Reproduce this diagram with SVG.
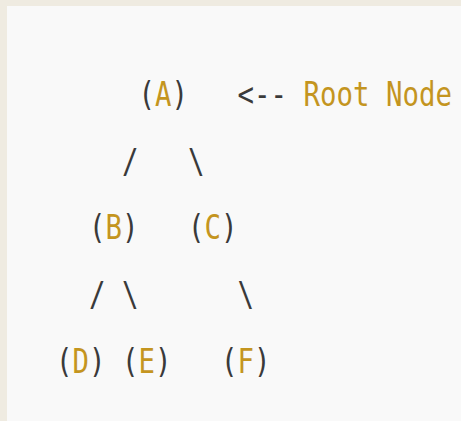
<svg xmlns="http://www.w3.org/2000/svg" width="461" height="421" viewBox="0 0 461 421">
<style>
text{font-family:"DejaVu Sans Mono","Liberation Mono",monospace;font-size:33px;fill:#3a3a3a;white-space:pre}
.k{fill:#c4951f}
</style>
<rect x="0" y="0" width="461" height="421" fill="#efebe1"/>
<rect x="7" y="6" width="454" height="415" fill="#f9f9f9"/>
<g transform="scale(0.8304 1)">
<g id="connectors">
<text x="146.92" y="172.7">/</text>
<text x="226.40" y="172.7">\</text>
<text x="107.18" y="306">/</text>
<text x="146.92" y="306">\</text>
<text x="286.01" y="306">\</text>
</g>
<g id="node-A"><text x="166.79" y="106">(<tspan class="k">A</tspan>)</text></g>
<g id="label-root"><text x="286.01" y="106" xml:space="preserve">&lt;-- <tspan class="k">Root Node</tspan></text></g>
<g id="node-B"><text x="107.18" y="239.3">(<tspan class="k">B</tspan>)</text></g>
<g id="node-C"><text x="226.40" y="239.3">(<tspan class="k">C</tspan>)</text></g>
<g id="node-D"><text x="67.44" y="372.7">(<tspan class="k">D</tspan>)</text></g>
<g id="node-E"><text x="146.92" y="372.7">(<tspan class="k">E</tspan>)</text></g>
<g id="node-F"><text x="266.14" y="372.7">(<tspan class="k">F</tspan>)</text></g>
</g>
</svg>
